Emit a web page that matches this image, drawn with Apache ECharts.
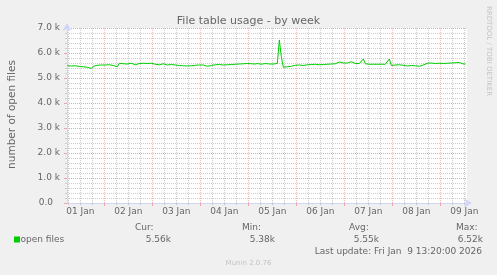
<!DOCTYPE html>
<html><head><meta charset="utf-8">
<script src="https://cdn.jsdelivr.net/npm/echarts@6/dist/echarts.min.js"></script>
<style>html,body{margin:0;padding:0;background:#F0F0F0}#c{width:497px;height:275px}</style>
</head><body><div id="c"></div><script>
// ---------- data ----------
const chartTitle = 'File table usage - by week';
const yAxisTitle = 'number of open files';
const seriesName = 'open files';
const sideText = 'RRDTOOL / TOBI OETIKER';
const footerText = 'Munin 2.0.76';
const lastUpdate = 'Last update: Fri Jan  9 13:20:00 2026';
// time measured in hours since 01 Jan 00:00
const windowStart = 5 + 1 / 3;   // Jan 1 05:20
const windowEnd = 205 + 1 / 3;   // Jan 9 13:20
const sampleStart = 5.5;
const sampleStep = 1;
const openFiles = [
  5490,5480,5480,5470,5490,5470,5460,5460,5450,5440,5430,5410,5380,5470,5500,5510,5500,5520,5510,5520,
  5520,5530,5530,5500,5470,5450,5590,5580,5570,5580,5560,5570,5590,5550,5530,5560,5580,5550,5590,5570,
  5580,5560,5590,5570,5550,5580,5530,5560,5570,5540,5520,5530,5540,5510,5520,5530,5500,5520,5490,5470,
  5480,5500,5490,5520,5510,5530,5520,5540,5520,5500,5470,5450,5500,5520,5530,5520,5540,5530,5520,5540,
  5530,5550,5540,5530,5550,5540,5560,5550,5570,5590,5580,5580,5570,5580,5560,5580,5570,5550,5570,5580,
  5570,5560,5570,5560,5570,5580,6520,5850,5430,5450,5450,5460,5470,5500,5510,5500,5520,5510,5500,5520,
  5530,5520,5540,5530,5550,5540,5530,5550,5540,5560,5550,5570,5560,5580,5570,5590,5640,5670,5600,5580,
  5600,5630,5650,5600,5580,5570,5580,5620,5760,5570,5540,5550,5560,5550,5560,5550,5560,5550,5560,5550,
  5620,5760,5500,5460,5520,5510,5530,5520,5510,5500,5480,5470,5500,5510,5490,5470,5470,5490,5520,5550,
  5590,5620,5600,5610,5580,5620,5590,5600,5580,5610,5590,5580,5600,5580,5610,5600,5620,5580,5560,5560
];
const dayLabels = ['01 Jan','02 Jan','03 Jan','04 Jan','05 Jan','06 Jan','07 Jan','08 Jan','09 Jan'];
const labelHours = [12,36,60,84,108,132,156,180,204];
const midnightHours = [24,48,72,96,120,144,168,192];
const minorHours = [6,12,18,30,36,42,54,60,66,78,84,90,102,108,114,126,132,138,150,156,162,174,180,186,198,204];
const yMin = 0, yMax = 7000, yStep = 1000;
const statLabels = ['Cur:','Min:','Avg:','Max:'];
const statValues = ['5.56k','5.38k','5.55k','6.52k'];

// ---------- style / layout ----------
const FONT = '"DejaVu Sans", sans-serif';
const TXT = '#666666';
const AXIS = '#CFD6F8';
const MAJOR = '#eaa6a6';
const MAJOR_V = '#f0bcbc';
const MINOR = '#cccccc';
const LINE = '#00CC00';
const statLabelX = [135, 242, 349, 456];
const statValueX = [171, 275, 379, 483];

function txt(text, x, y, size, opts) {
  return Object.assign({
    type: 'text', x: x, y: y, silent: true,
    style: Object.assign({ text: text, fill: TXT, font: size + 'px ' + FONT, align: 'left', verticalAlign: 'middle' }, opts && opts.style || {})
  }, opts && opts.el || {});
}

const graphics = [
  txt(chartTitle, 248.5, 21, 11, { style: { align: 'center' } }),
  txt(yAxisTitle, 12, 114.5, 10.5, { style: { align: 'center' }, el: { rotation: Math.PI / 2 } }),
  txt(sideText, 489, 51, 7, { style: { align: 'center', fill: '#c4c4c4' }, el: { rotation: -Math.PI / 2 } }),
  { type: 'rect', silent: true, shape: { x: 14, y: 236.5, width: 6, height: 6 }, style: { fill: LINE } },
  txt(seriesName, 20.5, 239.5, 9),
  txt(lastUpdate, 482, 251.5, 9, { style: { align: 'right' } }),
  txt(footerText, 248.5, 263.5, 7, { style: { align: 'center', fill: '#c4c4c4' } })
];
statLabels.forEach((s, i) => graphics.push(txt(s, statLabelX[i], 227.5, 9)));
statValues.forEach((s, i) => graphics.push(txt(s, statValueX[i], 239.5, 9, { style: { align: 'right' } })));

const chart = echarts.init(document.getElementById('c'), null, { renderer: 'canvas' });
chart.setOption({
  animation: false,
  backgroundColor: '#F0F0F0',
  grid: { left: 67, right: 30, top: 28, bottom: 72, show: true, backgroundColor: '#FFFFFF', borderWidth: 0 },
  xAxis: [{
    type: 'value', min: windowStart, max: windowEnd, position: 'bottom',
    axisLine: { show: true, lineStyle: { color: AXIS, width: 1 }, symbol: ['none', 'arrow'], symbolSize: [7, 8], symbolOffset: [0, 5] },
    axisTick: { show: true, customValues: minorHours, length: 2, lineStyle: { color: MINOR } },
    axisLabel: { customValues: labelHours, formatter: v => dayLabels[Math.floor(v / 24)], margin: 4, color: TXT, fontFamily: FONT, fontSize: 9 },
    splitLine: { show: true, lineStyle: { color: MINOR, type: [1, 1], width: 1 } }
  }, {
    type: 'value', min: windowStart, max: windowEnd, position: 'bottom', offset: 0,
    axisLine: { show: false },
    axisTick: { show: true, customValues: midnightHours, length: 3, lineStyle: { color: MAJOR } },
    axisLabel: { show: false },
    splitLine: { show: true, lineStyle: { color: MAJOR_V, type: [1, 1], width: 1 } }
  }],
  yAxis: {
    type: 'value', min: yMin, max: yMax, interval: yStep,
    axisLine: { show: true, lineStyle: { color: AXIS, width: 1 }, symbol: ['none', 'arrow'], symbolSize: [7, 8], symbolOffset: [0, 5] },
    axisTick: { show: true, length: 3, lineStyle: { color: MAJOR } },
    minorTick: { show: true, splitNumber: 5, length: 2, lineStyle: { color: MINOR } },
    minorSplitLine: { show: true, lineStyle: { color: MINOR, type: [1, 1], width: 1 } },
    splitLine: { show: true, showMinLine: false, lineStyle: { color: MAJOR, type: [1, 1], width: 1 } },
    axisLabel: {
      margin: 7, color: TXT, fontFamily: FONT, fontSize: 9,
      formatter: v => v === 0 ? '{z|0.0}' : (v / 1000).toFixed(1) + ' k',
      rich: { z: { padding: [0, 7, 0, 0], color: TXT, fontFamily: FONT, fontSize: 9 } }
    }
  },
  series: [{
    name: seriesName, type: 'line', xAxisIndex: 0, yAxisIndex: 0,
    data: openFiles.map((v, i) => [sampleStart + i * sampleStep, v]),
    symbol: 'none', showSymbol: false, lineStyle: { color: LINE, width: 1 }, itemStyle: { color: LINE }
  }],
  graphic: graphics
});
</script></body></html>
